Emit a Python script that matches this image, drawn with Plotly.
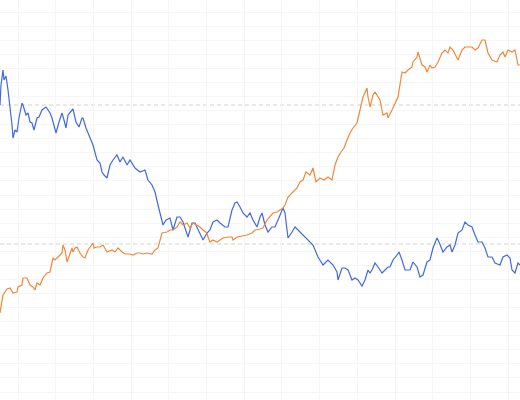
import plotly.graph_objects as go

# ---------------- data (day index, level) ----------------
blue_x = [0, 1, 3, 4, 5, 6, 8, 10, 12, 13, 15, 17, 19, 22, 23, 26, 28, 30, 32, 34,
          37, 39, 42, 46, 50, 52, 56, 59, 62, 64, 66, 68, 70, 73, 76, 79, 82, 83, 86, 88,
          91, 93, 97, 100, 102, 104, 107, 110, 113, 117, 120, 123, 127, 130, 135, 140, 145, 148, 152, 155,
          158, 160, 163, 166, 170, 173, 177, 180, 183, 188, 192, 195, 198, 203, 207, 210, 213, 217, 220, 225,
          228, 232, 235, 237, 240, 243, 247, 250, 253, 257, 260, 262, 265, 268, 272, 275, 278, 282, 283, 285,
          288, 292, 295, 298, 303, 307, 310, 313, 318, 323, 328, 333, 337, 338, 342, 345, 348, 352, 355, 358,
          362, 365, 368, 370, 372, 375, 378, 382, 385, 388, 390, 393, 397, 399, 402, 405, 410, 413, 417, 420,
          423, 427, 430, 433, 437, 439, 443, 447, 450, 452, 455, 458, 462, 465, 468, 472, 475, 478, 482, 485,
          488, 492, 495, 500, 503, 507, 510, 512, 515, 518, 520]
blue_y = [295, 315, 330, 320, 322, 324, 310, 295, 275, 262, 270, 268, 282, 297, 295, 285, 287, 278, 277, 270,
          282, 283, 290, 293, 287, 282, 267, 278, 287, 280, 272, 285, 287, 291, 278, 273, 282, 282, 272, 267,
          260, 255, 240, 237, 228, 225, 222, 235, 240, 245, 238, 243, 235, 240, 232, 228, 230, 220, 215, 208,
          195, 188, 175, 180, 182, 170, 183, 183, 178, 163, 177, 177, 170, 160, 167, 170, 178, 180, 177, 173,
          173, 190, 197, 198, 193, 187, 183, 187, 180, 173, 183, 187, 175, 168, 173, 173, 180, 190, 192, 187,
          162, 168, 173, 170, 165, 162, 158, 155, 143, 135, 140, 135, 128, 120, 132, 132, 130, 120, 122, 120,
          114, 120, 130, 127, 130, 137, 133, 127, 130, 133, 133, 140, 145, 148, 140, 130, 130, 138, 133, 123,
          125, 138, 140, 152, 162, 158, 148, 153, 155, 148, 155, 167, 170, 178, 175, 173, 165, 158, 158, 152,
          143, 143, 137, 135, 143, 145, 142, 130, 127, 137, 135]

orange_x = [0, 2, 3, 7, 10, 13, 17, 18, 22, 23, 27, 30, 33, 35, 37, 40, 43, 47, 50, 53,
            55, 58, 62, 63, 65, 67, 70, 72, 73, 75, 77, 80, 83, 85, 88, 90, 93, 94, 97, 100,
            103, 107, 112, 115, 118, 122, 125, 130, 133, 137, 140, 143, 147, 152, 155, 158, 160, 162, 167, 170,
            173, 177, 180, 183, 187, 190, 193, 197, 200, 203, 207, 208, 210, 213, 217, 220, 223, 228, 232, 233,
            237, 242, 247, 252, 255, 260, 263, 267, 270, 273, 277, 280, 283, 285, 288, 293, 297, 300, 303, 306,
            310, 313, 316, 320, 324, 328, 332, 335, 338, 341, 344, 347, 350, 353, 357, 360, 363, 367, 368, 370,
            373, 375, 378, 380, 382, 383, 387, 388, 392, 395, 398, 402, 405, 408, 412, 413, 417, 418, 422, 425,
            427, 430, 432, 435, 438, 442, 445, 448, 450, 453, 458, 462, 465, 472, 475, 478, 482, 485, 488, 492,
            497, 500, 503, 505, 508, 512, 515, 518, 520]
orange_y = [87, 100, 105, 111, 112, 107, 108, 113, 115, 122, 122, 115, 113, 110, 117, 115, 122, 127, 128, 142,
            140, 143, 147, 155, 150, 138, 147, 152, 148, 152, 153, 147, 143, 142, 150, 153, 157, 152, 153, 153,
            155, 148, 150, 148, 152, 148, 146, 146, 145, 147, 147, 146, 147, 146, 150, 152, 160, 167, 168, 170,
            170, 173, 178, 175, 177, 172, 177, 175, 173, 170, 167, 163, 158, 160, 158, 160, 162, 163, 163, 160,
            163, 164, 165, 167, 170, 171, 172, 180, 183, 187, 188, 190, 192, 195, 203, 208, 212, 218, 220, 228,
            225, 232, 218, 222, 220, 223, 220, 235, 243, 248, 252, 260, 267, 272, 277, 290, 303, 312, 303, 293,
            305, 308, 303, 300, 290, 285, 287, 282, 290, 297, 303, 328, 327, 330, 333, 338, 343, 348, 335, 333,
            328, 335, 332, 333, 338, 347, 350, 347, 353, 350, 340, 350, 353, 353, 350, 352, 360, 360, 347, 340,
            338, 345, 348, 343, 350, 348, 350, 335, 335]

ref_levels = [295, 156]

assert len(blue_x) == len(blue_y)
assert len(orange_x) == len(orange_y)

# ---------------- figure ----------------
fig = go.Figure()
fig.add_trace(go.Scatter(x=blue_x, y=blue_y, mode='lines',
                         line=dict(color='#4169E1', width=1.2), showlegend=False))
fig.add_trace(go.Scatter(x=orange_x, y=orange_y, mode='lines',
                         line=dict(color='#F0883A', width=1.2), showlegend=False))

for lvl in ref_levels:
    fig.add_hline(y=lvl, line=dict(color='#d2d2d2', width=1, dash='4px,3px'), layer='below')

fig.update_layout(
    width=520, height=400,
    margin=dict(l=0, r=0, t=0, b=0),
    paper_bgcolor='white', plot_bgcolor='white',
    xaxis=dict(range=[0, 520], showticklabels=False, zeroline=False,
               showgrid=True, gridcolor='#f6f6f6', gridwidth=1, tick0=18, dtick=37.7),
    yaxis=dict(range=[0, 400], showticklabels=False, zeroline=False,
               showgrid=True, gridcolor='#f6f6f6', gridwidth=1, tick0=8, dtick=14.07),
)

# drop the browser's default body margin so the plot fills the window
fig.write_html("out.html", config={'displayModeBar': False},
               post_script="document.body.style.margin='0';")
